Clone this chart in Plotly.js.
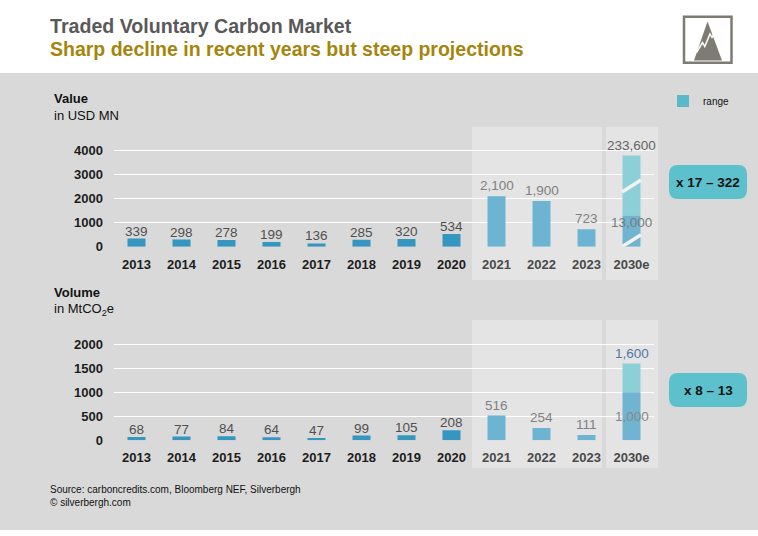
<!DOCTYPE html>
<html>
<head>
<meta charset="utf-8">
<script src="https://cdn.plot.ly/plotly-3.0.1.min.js"></script>
<style>html,body{margin:0;padding:0;background:#fff;}#chart{width:758px;height:536px;}</style>
</head>
<body>
<div id="chart"></div>
<script>
// ---------- DATA ----------
const years = ['2013','2014','2015','2016','2017','2018','2019','2020','2021','2022','2023','2030e'];
const histYears = ['2013','2014','2015','2016','2017','2018','2019','2020'];
const recentYears = ['2021','2022','2023'];
const projYear = ['2030e'];

// Value (USD MN)
const valueHist = [339, 298, 278, 199, 136, 285, 320, 534];
const valueRecent = [2100, 1900, 723];
const valueProjLow = 13000;      // label value
const valueProjHigh = 233600;    // label value
const valueProjLowBar = 1300;    // drawn height on broken axis
const valueProjHighBar = 3800;   // drawn height on broken axis

// Volume (MtCO2e)
const volumeHist = [68, 77, 84, 64, 47, 99, 105, 208];
const volumeRecent = [516, 254, 111];
const volumeProjLow = 1000;
const volumeProjHigh = 1600;

const valueTicks = [0, 1000, 2000, 3000, 4000];
const volumeTicks = [0, 500, 1000, 1500, 2000];

const multiplierValue = 'x 17 – 322';
const multiplierVolume = 'x 8 – 13';

// ---------- HELPERS ----------
const W = 758, H = 536;
const FONT = '"Liberation Sans", Arial, Helvetica, sans-serif';
const px = x => x / W;
const py = y => 1 - y / H;
const fmt = v => v.toLocaleString('en-US');
const idx = yr => years.indexOf(yr);

const C_HIST = '#3596BF';
const C_RECENT = '#6CB4D2';
const C_LOW = '#70B4D1';
const C_RANGE = '#8DCFD7';
const C_LEGEND = '#5BB8C8';

function roundRect(x0, y0, x1, y1, r) {
  const P = (x, y) => px(x) + ',' + py(y);
  return 'M' + P(x0 + r, y0) + ' L' + P(x1 - r, y0) + ' Q' + P(x1, y0) + ' ' + P(x1, y0 + r) +
    ' L' + P(x1, y1 - r) + ' Q' + P(x1, y1) + ' ' + P(x1 - r, y1) +
    ' L' + P(x0 + r, y1) + ' Q' + P(x0, y1) + ' ' + P(x0, y1 - r) +
    ' L' + P(x0, y0 + r) + ' Q' + P(x0, y0) + ' ' + P(x0 + r, y0) + ' Z';
}
function polyPath(points, close) {
  return points.map((p, i) => (i ? 'L' : 'M') + px(p[0]) + ',' + py(p[1])).join(' ') + (close ? ' Z' : '');
}

function barTrace(x, y, color, xa, ya, extra) {
  return Object.assign({
    type: 'bar', x: x, y: y, width: 0.4, xaxis: xa, yaxis: ya,
    marker: { color: color, line: { width: 0 } },
    hoverinfo: 'skip', showlegend: false
  }, extra || {});
}

const traces = [
  barTrace(histYears, valueHist, C_HIST, 'x', 'y'),
  barTrace(recentYears, valueRecent, C_RECENT, 'x', 'y'),
  barTrace(projYear, [valueProjHighBar - valueProjLowBar], C_RANGE, 'x', 'y', { base: [valueProjLowBar] }),
  barTrace(projYear, [valueProjLowBar], C_LOW, 'x', 'y'),
  barTrace(histYears, volumeHist, C_HIST, 'x2', 'y2'),
  barTrace(recentYears, volumeRecent, C_RECENT, 'x2', 'y2'),
  barTrace(projYear, [volumeProjHigh - volumeProjLow], C_RANGE, 'x2', 'y2', { base: [volumeProjLow] }),
  barTrace(projYear, [volumeProjLow], C_LOW, 'x2', 'y2'),
  // legend entry
  { type: 'bar', x: [null], y: [null], name: 'range', xaxis: 'x', yaxis: 'y',
    marker: { color: C_LEGEND }, showlegend: true, hoverinfo: 'skip' }
];

// tick labels: dark for historic, grey for recent/projection
const tickText = years.map((y, i) => '<span style="color:' + (i < 8 ? '#1d1d1d' : '#4a4a4a') + '">' + y + '</span>');

const xCommon = {
  type: 'category', categoryorder: 'array', categoryarray: years,
  range: [-0.5, 11.5], domain: [px(114), px(654)],
  showgrid: false, zeroline: false, showline: false, ticks: '',
  tickvals: years, ticktext: tickText,
  tickfont: { family: FONT, size: 13, color: '#1d1d1d', weight: 'bold' },
  ticklabelstandoff: 8, fixedrange: true
};
const yCommon = {
  showgrid: true, gridcolor: '#FFFFFF', gridwidth: 1.5,
  zeroline: false, showline: false, ticks: '',
  tickfont: { family: FONT, size: 13, color: '#1d1d1d', weight: 'bold' },
  ticklabelstandoff: 10, fixedrange: true
};

// ---------- ANNOTATIONS ----------
const ann = [];
function label(yr, y, text, color, xr, yr2, yanchor, yshift) {
  ann.push({ x: idx(yr), y: y, xref: xr, yref: yr2, text: text, showarrow: false,
    yanchor: yanchor, yshift: yshift,
    font: { family: FONT, size: 13.5, color: color } });
}
histYears.forEach((yr, i) => label(yr, valueHist[i], fmt(valueHist[i]), '#505050', 'x', 'y', 'bottom', -2));
recentYears.forEach((yr, i) => label(yr, valueRecent[i], fmt(valueRecent[i]), '#808080', 'x', 'y', 'bottom', 1));
label('2030e', valueProjHighBar, fmt(valueProjHigh), '#666666', 'x', 'y', 'bottom', 1);
label('2030e', valueProjLowBar, fmt(valueProjLow), '#7a7a7a', 'x', 'y', 'top', 3);

histYears.forEach((yr, i) => label(yr, volumeHist[i], fmt(volumeHist[i]), '#505050', 'x2', 'y2', 'bottom', -2));
recentYears.forEach((yr, i) => label(yr, volumeRecent[i], fmt(volumeRecent[i]), '#808080', 'x2', 'y2', 'bottom', 1));
label('2030e', volumeProjHigh, fmt(volumeProjHigh), '#4F78A8', 'x2', 'y2', 'bottom', 1);
label('2030e', volumeProjLow, fmt(volumeProjLow), '#888888', 'x2', 'y2', 'top', -15);

function txt(x, y, text, size, color, bold, xanchor) {
  ann.push({ x: px(x), y: py(y), xref: 'paper', yref: 'paper', text: text, showarrow: false,
    xanchor: xanchor || 'left', yanchor: 'middle',
    font: { family: FONT, size: size, color: color, weight: bold ? 'bold' : 'normal' } });
}
txt(48, 26, 'Traded Voluntary Carbon Market', 19.6, '#595959', true);
txt(48, 49, 'Sharp decline in recent years but steep projections', 19.5, '#A5850C', true);
txt(52, 99, 'Value', 13, '#111111', true);
txt(52, 115, 'in USD MN', 13, '#111111', false);
txt(52, 292, 'Volume', 13, '#111111', true);
txt(52, 309, 'in MtCO<sub>2</sub>e', 13, '#111111', false);
txt(708, 182, multiplierValue, 13.5, '#111111', true, 'center');
txt(708, 390, multiplierVolume, 13.5, '#111111', true, 'center');
txt(48, 489, 'Source: carboncredits.com, Bloomberg NEF, Silverbergh', 10, '#111111', false);
txt(48, 502, '© silverbergh.com', 10, '#111111', false);

// ---------- SHAPES ----------
const shapes = [
  // grey body background
  { type: 'rect', xref: 'paper', yref: 'paper', x0: 0, x1: 1, y0: py(530), y1: py(73),
    fillcolor: '#D9D9D9', line: { width: 0 }, layer: 'below' },
  // highlight panels
  { type: 'rect', xref: 'paper', yref: 'paper', x0: px(472), x1: px(602), y0: py(280), y1: py(127),
    fillcolor: '#E4E4E4', line: { width: 0 }, layer: 'below' },
  { type: 'rect', xref: 'paper', yref: 'paper', x0: px(606), x1: px(658), y0: py(280), y1: py(127),
    fillcolor: '#E4E4E4', line: { width: 0 }, layer: 'below' },
  { type: 'rect', xref: 'paper', yref: 'paper', x0: px(472), x1: px(602), y0: py(468), y1: py(320),
    fillcolor: '#E4E4E4', line: { width: 0 }, layer: 'below' },
  { type: 'rect', xref: 'paper', yref: 'paper', x0: px(606), x1: px(658), y0: py(468), y1: py(320),
    fillcolor: '#E4E4E4', line: { width: 0 }, layer: 'below' },
  // axis-break slashes on the 2030e value bar
  { type: 'line', xref: 'x', yref: 'y', x0: 10.79, x1: 11.21, y0: 2280, y1: 2780,
    line: { color: '#F2F2F2', width: 3.5 }, layer: 'above' },
  { type: 'line', xref: 'x', yref: 'y', x0: 10.79, x1: 11.21, y0: 0, y1: 500,
    line: { color: '#F2F2F2', width: 3.5 }, layer: 'above' },
  // badges
  { type: 'path', xref: 'paper', yref: 'paper', path: roundRect(669, 165, 747, 199, 9),
    fillcolor: '#5DC1CD', line: { width: 0 } },
  { type: 'path', xref: 'paper', yref: 'paper', path: roundRect(669, 373, 747, 407, 9),
    fillcolor: '#5DC1CD', line: { width: 0 } },
  // logo
  { type: 'rect', xref: 'paper', yref: 'paper', x0: px(684), x1: px(731.5), y0: py(62.8), y1: py(16.7),
    fillcolor: '#FFFFFF', line: { color: '#7E7B72', width: 2.5 } },
  { type: 'path', xref: 'paper', yref: 'paper', path: polyPath([[694, 60.5], [707.5, 21.5], [722, 60.5]], true),
    fillcolor: '#7E7B72', line: { width: 0 } },
  { type: 'path', xref: 'paper', yref: 'paper',
    path: polyPath([[696.5, 52.5], [702.5, 42.5], [704.8, 46.5], [710, 34], [712, 37.5], [714, 33.5]], false),
    line: { color: '#FFFFFF', width: 1.5 } }
];

const layout = {
  width: W, height: H,
  margin: { l: 0, r: 0, t: 0, b: 0 },
  paper_bgcolor: '#FFFFFF', plot_bgcolor: 'rgba(0,0,0,0)',
  barmode: 'overlay', bargap: 0.6,
  font: { family: FONT },
  xaxis: Object.assign({}, xCommon, { anchor: 'y' }),
  yaxis: Object.assign({}, yCommon, { anchor: 'x', domain: [py(246.7), py(145.9)], range: [0, 4200],
    tickvals: valueTicks, ticktext: valueTicks.map(String) }),
  xaxis2: Object.assign({}, xCommon, { anchor: 'y2' }),
  yaxis2: Object.assign({}, yCommon, { anchor: 'x2', domain: [py(440.3), py(339.5)], range: [0, 2100],
    tickvals: volumeTicks, ticktext: volumeTicks.map(String) }),
  showlegend: true,
  legend: { x: px(663), y: py(101), xanchor: 'left', yanchor: 'middle',
    bgcolor: 'rgba(0,0,0,0)', borderwidth: 0, itemwidth: 30,
    font: { family: FONT, size: 10, color: '#111111' } },
  annotations: ann,
  shapes: shapes
};

Plotly.newPlot('chart', traces, layout, { displayModeBar: false, staticPlot: true });
</script>
</body>
</html>
